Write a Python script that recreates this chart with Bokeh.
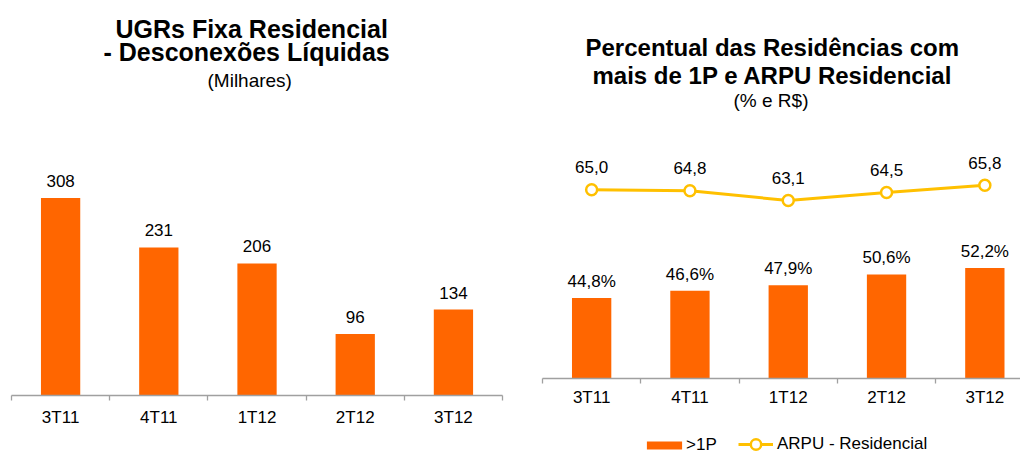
from bokeh.plotting import figure
from bokeh.layouts import row
from bokeh.models import Range1d, FixedTicker, Title, Legend, LegendItem
from bokeh.core.properties import value
from bokeh.embed import file_html
from bokeh.resources import INLINE

# ---------------- data ----------------
categories = ["3T11", "4T11", "1T12", "2T12", "3T12"]
desconexoes = [308, 231, 206, 96, 134]             # milhares
residencias_1p = [44.8, 46.6, 47.9, 50.6, 52.2]    # %
arpu_residencial = [65.0, 64.8, 63.1, 64.5, 65.8]  # R$

FONT = "Liberation Sans"
ORANGE = "#FF6600"
GOLD = "#FFC000"
AXIS_GRAY = "#A0A0A0"
TOP = 110

xs = [i + 0.5 for i in range(len(categories))]


def fmt(v, dec, suffix=""):
    return (f"{v:.{dec}f}" + suffix).replace(".", ",")


def base_fig(xr, yr, axis_at, standoff):
    p = figure(width=510, height=453, x_range=Range1d(*xr), y_range=Range1d(*yr),
               output_backend="svg", toolbar_location=None, y_axis_location=None,
               title=None, min_border_left=0, min_border_right=0,
               min_border_top=TOP, min_border_bottom=0)
    p.xgrid.visible = False
    p.ygrid.visible = False
    p.outline_line_color = None
    p.background_fill_color = "white"
    p.border_fill_color = "white"
    ax = p.xaxis[0]
    ax.fixed_location = axis_at
    ax.ticker = FixedTicker(ticks=xs, minor_ticks=list(range(len(categories) + 1)))
    ax.major_label_overrides = {x: c for x, c in zip(xs, categories)}
    ax.bounds = (0, len(categories))
    ax.axis_line_color = AXIS_GRAY
    ax.axis_line_width = 1.3
    ax.major_tick_line_color = None
    ax.major_tick_in = 0
    ax.major_tick_out = 0
    ax.minor_tick_line_color = AXIS_GRAY
    ax.minor_tick_line_width = 1.3
    ax.minor_tick_in = 0
    ax.minor_tick_out = 5
    ax.major_label_text_font = FONT
    ax.major_label_text_font_size = "17px"
    ax.major_label_text_color = "#000000"
    ax.major_label_standoff = standoff
    return p


def add_titles(p, lines):
    # listed from the line nearest the plot to the outermost one
    for text, size, style, offset, standoff in lines:
        p.add_layout(Title(text=text, text_font=FONT, text_font_size=size,
                           text_font_style=style, align="left", offset=offset,
                           standoff=standoff, text_color="#000000"), "above")


# ---------------- left chart ----------------
p1 = base_fig((-0.112, 5.081), (-90.5, 444.6), 0, 8)
p1.vbar(x=xs, top=desconexoes, bottom=0, width=0.4, fill_color=ORANGE, line_color=None)
p1.text(x=xs, y=desconexoes, text=[str(v) for v in desconexoes], text_align="center",
        text_baseline="alphabetic", y_offset=-17, text_font=value(FONT),
        text_font_size="17px", text_color="#000000")
add_titles(p1, [
    (" ", "1px", "normal", 0, 15),
    ("(Milhares)", "19px", "normal", 207, 2.5),
    ("- Desconexões Líquidas", "25px", "bold", 103, 0.5),
    ("UGRs Fixa Residencial", "25px", "bold", 115, -14),
])

# ---------------- right chart ----------------
p2 = base_fig((-0.3255, 4.8627), (6.43, 91.03), 25, 5)
p2.extra_y_ranges = {"arpu": Range1d(18.43, 78.98)}
bars2 = p2.vbar(x=xs, top=residencias_1p, bottom=25, width=0.4, fill_color=ORANGE, line_color=None)
p2.text(x=xs, y=residencias_1p, text=[fmt(v, 1, "%") for v in residencias_1p], text_align="center",
        text_baseline="alphabetic", y_offset=-16.5, text_font=value(FONT),
        text_font_size="17px", text_color="#000000")
line2 = p2.line(x=xs, y=arpu_residencial, y_range_name="arpu", line_color=GOLD, line_width=3)
pts2 = p2.scatter(x=xs, y=arpu_residencial, y_range_name="arpu", marker="circle", size=11,
                  fill_color="white", line_color=GOLD, line_width=2.5)
p2.text(x=xs, y=arpu_residencial, y_range_name="arpu", text=[fmt(v, 1) for v in arpu_residencial],
        text_align="center", text_baseline="alphabetic", y_offset=-22.5, text_font=value(FONT),
        text_font_size="17px", text_color="#000000")
add_titles(p2, [
    ("(% e R$)", "19px", "normal", 223, 0),
    ("mais de 1P e ARPU Residencial", "24px", "bold", 82, -2.9),
    ("Percentual das Residências com", "24px", "bold", 75, 0.9),
])

leg1 = Legend(items=[LegendItem(label=">1P", renderers=[bars2])], orientation="horizontal",
              location=(132, -2), glyph_width=44, glyph_height=10, label_standoff=0,
              label_text_font=FONT, label_text_font_size="17px", label_text_color="#000000",
              padding=0, margin=0, border_line_color=None, background_fill_alpha=0)
leg2 = Legend(items=[LegendItem(label="ARPU - Residencial", renderers=[line2, pts2])],
              orientation="horizontal", location=(228, -4), glyph_width=35, glyph_height=26,
              label_standoff=4, label_text_font=FONT, label_text_font_size="17px",
              label_text_color="#000000", padding=0, margin=0, border_line_color=None,
              background_fill_alpha=0)
p2.add_layout(leg1)
p2.add_layout(leg2)

layout = row(p1, p2, spacing=0)
open("out.html", "w").write(file_html(layout, INLINE))
